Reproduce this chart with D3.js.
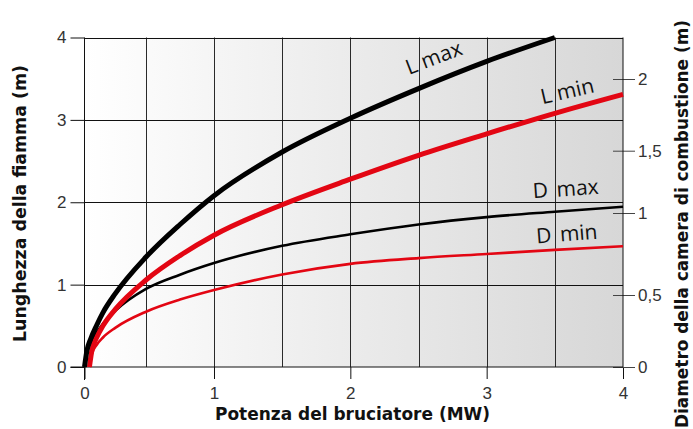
<!DOCTYPE html>
<html>
<head>
<meta charset="utf-8">
<script src="https://cdn.jsdelivr.net/npm/d3@7/dist/d3.min.js"></script>
<style>
  html, body { margin: 0; padding: 0; background: #fff; }
  svg { display: block; }
</style>
</head>
<body>
<svg id="chart" width="693" height="429"></svg>
<script>
// Burner power (MW) and flame length / combustion chamber diameter (m)
const powerMax = [0, 0.02, 0.05, 0.1, 0.15, 0.25, 0.5, 0.75, 1, 1.5, 2, 2.5, 3, 3.5, 4];
const powerMin = [0.04, 0.06, 0.1, 0.15, 0.25, 0.5, 0.75, 1, 1.5, 2, 2.5, 3, 3.5, 4];

// Flame length (left axis)
const lengthMax = [0, 0.20, 0.34, 0.51, 0.66, 0.89, 1.335, 1.73, 2.08, 2.61, 3.02, 3.38, 3.71, 4.0];
const lengthMin = [0, 0.20, 0.36, 0.50, 0.70, 1.056, 1.353, 1.60, 1.97, 2.28, 2.57, 2.83, 3.08, 3.31];

// Combustion chamber diameter (right axis)
const diamMax = [0, 0.10, 0.165, 0.24, 0.30, 0.39, 0.537, 0.624, 0.695, 0.80, 0.87, 0.93, 0.975, 1.01, 1.05];
const diamMin = [0, 0.09, 0.155, 0.205, 0.272, 0.384, 0.468, 0.53, 0.625, 0.69, 0.725, 0.75, 0.775, 0.797];

const xTicks = [0, 1, 2, 3, 4];
const xGrid = [0.5, 1, 1.5, 2, 2.5, 3, 3.5];
const yTicks = [0, 1, 2, 3, 4];
const yRightTicks = [0, 0.5, 1, 1.5, 2];

const svg = d3.select("#chart");
const pL = 84.5, pR = 623, pT = 37.5, pB = 367;

// The printed power axis is slightly compressed near the origin
const x = d3.scaleLinear().domain([0, 0.5, 1, 4]).range([pL, 146, 214, pR]);
const y = d3.scaleLinear().domain([0, 4]).range([pB, pT]);
// The printed diameter scale has uneven tick spacing
const yR = d3.scaleLinear().domain([0, 0.5, 1, 1.5, 2]).range([pB, 295, 213, 150.7, 79]);

const defs = svg.append("defs");
const grad = defs.append("linearGradient").attr("id", "bg")
  .attr("x1", 0).attr("x2", 1).attr("y1", 0).attr("y2", 0);
grad.append("stop").attr("offset", 0).attr("stop-color", "#ffffff");
grad.append("stop").attr("offset", 1).attr("stop-color", "#d7d7d7");

svg.append("rect")
  .attr("x", pL).attr("y", pT)
  .attr("width", pR - pL).attr("height", pB - pT)
  .attr("fill", "url(#bg)");

// Grid
svg.append("g").selectAll("line").data(xGrid).join("line")
  .attr("x1", d => Math.round(x(d)) + 0.5).attr("x2", d => Math.round(x(d)) + 0.5)
  .attr("y1", pT).attr("y2", pB)
  .attr("stroke", "#2a2a2a").attr("stroke-width", 1);

svg.append("g").selectAll("line").data(yTicks.slice(1)).join("line")
  .attr("x1", pL).attr("x2", pR)
  .attr("y1", d => Math.round(y(d)) + 0.5).attr("y2", d => Math.round(y(d)) + 0.5)
  .attr("stroke", "#111").attr("stroke-width", 1);

const tickFont = "'Liberation Sans', Arial, sans-serif";
const comma = d3.formatLocale({decimal: ",", thousands: ".", grouping: [3], currency: ["", "€"]});

// Left axis
const gL = svg.append("g").attr("transform", `translate(${pL},0)`)
  .call(d3.axisLeft(y).tickValues(yTicks).tickSize(14).tickPadding(4).tickFormat(d3.format("d")));
gL.select(".domain").remove();
gL.selectAll(".tick line").attr("stroke", "#111");
gL.selectAll(".tick text").attr("font-family", tickFont).attr("font-size", 17).attr("fill", "#333");

// Bottom axis
const gB = svg.append("g").attr("transform", `translate(0,${pB})`)
  .call(d3.axisBottom(x).tickValues(xTicks).tickSize(12).tickPadding(7.5).tickFormat(d3.format("d")));
gB.select(".domain").remove();
gB.selectAll(".tick line").attr("stroke", "#111");
gB.selectAll(".tick text").attr("font-family", tickFont).attr("font-size", 17).attr("fill", "#333");

// Right axis
const gR = svg.append("g").attr("transform", `translate(${pR},0)`)
  .call(d3.axisRight(yR).tickValues(yRightTicks).tickSize(12).tickPadding(3).tickFormat(comma.format("")));
gR.select(".domain").remove();
gR.selectAll(".tick line").attr("x1", -10).attr("stroke", "#444");
gR.selectAll(".tick text").attr("font-family", tickFont).attr("font-size", 17).attr("fill", "#333");

// Frame lines
svg.append("line").attr("x1", pL).attr("x2", pL).attr("y1", pT).attr("y2", pB + 13)
  .attr("stroke", "#111");
svg.append("line").attr("x1", pR).attr("x2", pR).attr("y1", pT).attr("y2", pB)
  .attr("stroke", "#111");
svg.append("line").attr("x1", pL - 14).attr("x2", pR).attr("y1", pB).attr("y2", pB)
  .attr("stroke", "#111");

// Curves
const lineL = d3.line().x(d => x(d[0])).y(d => y(d[1])).curve(d3.curveMonotoneX);
const lineD = d3.line().x(d => x(d[0])).y(d => yR(d[1])).curve(d3.curveMonotoneX);
const zip = (xs, ys) => ys.map((v, i) => [xs[i], v]);

const red = "#e30613";
const curves = [
  {pts: zip(powerMin, diamMin), gen: lineD, color: red, w: 2.6},
  {pts: zip(powerMax, diamMax), gen: lineD, color: "#000", w: 2.6},
  {pts: zip(powerMin, lengthMin), gen: lineL, color: red, w: 5},
  {pts: zip(powerMax, lengthMax), gen: lineL, color: "#000", w: 5}
];
svg.append("g").selectAll("path").data(curves).join("path")
  .attr("d", d => d.gen(d.pts))
  .attr("fill", "none")
  .attr("stroke", d => d.color)
  .attr("stroke-width", d => d.w)
  .attr("stroke-linejoin", "round");

// Curve labels
const labelFont = "'Open Sans', 'Noto Sans', sans-serif";
const labels = [
  {head: "L", tail: "max", gap: 0, px: 2.43, py: 3.545, angle: -21},
  {head: "L", tail: "min", gap: 0, px: 3.41, py: 3.19, angle: -13},
  {head: "D", tail: "max", gap: 3, px: 3.342, py: 2.048, angle: -4},
  {head: "D", tail: "min", gap: 3, px: 3.367, py: 1.50, angle: -4.5}
];
const lab = svg.append("g").selectAll("text").data(labels).join("text")
  .attr("transform", d => `translate(${x(d.px)},${y(d.py)}) rotate(${d.angle})`)
  .attr("font-family", labelFont)
  .attr("font-size", 21)
  .attr("fill", "#111");
lab.append("tspan").text(d => d.head);
lab.append("tspan").attr("dx", d => 5.5 + d.gap).text(d => d.tail);

// Axis titles
const titleFont = "'DejaVu Sans', Verdana, sans-serif";
svg.append("text")
  .attr("transform", `translate(26,203.5) rotate(-90)`)
  .attr("text-anchor", "middle")
  .attr("font-family", titleFont).attr("font-weight", "bold").attr("font-size", 17)
  .attr("textLength", 277).attr("lengthAdjust", "spacingAndGlyphs")
  .attr("fill", "#111")
  .text("Lunghezza della fiamma (m)");

svg.append("text")
  .attr("x", 352.5).attr("y", 420)
  .attr("text-anchor", "middle")
  .attr("font-family", titleFont).attr("font-weight", "bold").attr("font-size", 17)
  .attr("textLength", 275).attr("lengthAdjust", "spacingAndGlyphs")
  .attr("fill", "#111")
  .text("Potenza del bruciatore (MW)");

svg.append("text")
  .attr("transform", `translate(688,224) rotate(-90)`)
  .attr("text-anchor", "middle")
  .attr("font-family", titleFont).attr("font-weight", "bold").attr("font-size", 17)
  .attr("textLength", 408).attr("lengthAdjust", "spacingAndGlyphs")
  .attr("fill", "#111")
  .text("Diametro della camera di combustione (m)");
</script>
</body>
</html>
